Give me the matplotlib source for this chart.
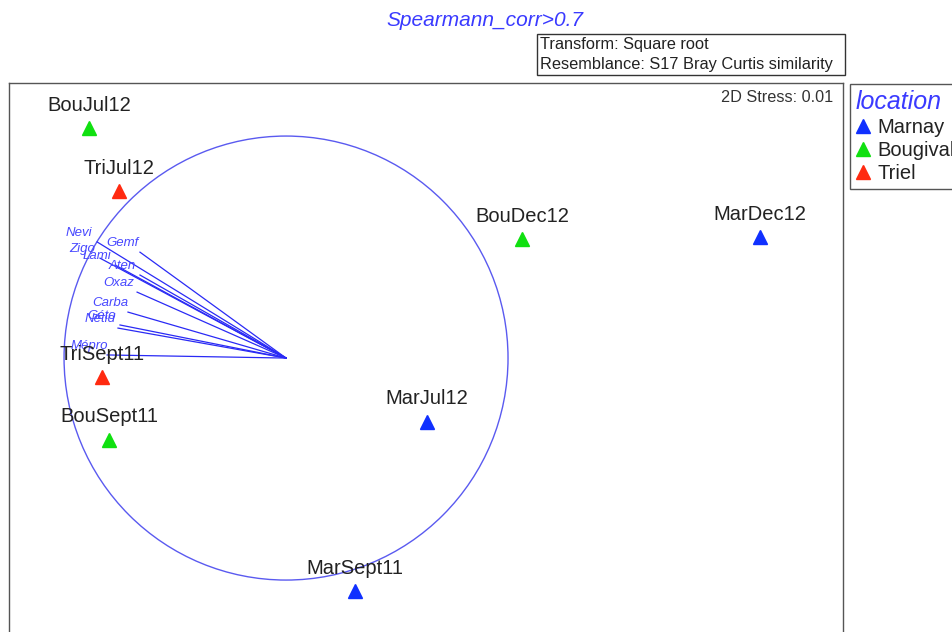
import matplotlib.pyplot as plt
from matplotlib.patches import Circle, Rectangle
from matplotlib.lines import Line2D

plt.rcParams['font.family'] = ['Liberation Sans', 'DejaVu Sans']

# nMDS sample coordinates (scaled so the correlation circle has radius 1)
samples = ['BouJul12', 'TriJul12', 'BouDec12', 'MarDec12',
           'TriSept11', 'BouSept11', 'MarJul12', 'MarSept11']
location = ['Bougival', 'Triel', 'Bougival', 'Marnay',
            'Triel', 'Bougival', 'Marnay', 'Marnay']
mds1 = [-0.887, -0.752, 1.063, 2.135, -0.829, -0.797, 0.635, 0.311]
mds2 = [1.036, 0.752, 0.536, 0.545, -0.086, -0.369, -0.288, -1.050]

# Spearman correlation vectors of taxa (corr > 0.7)
taxa = ['Nevi', 'Gemf', 'Zigo', 'Lami', 'Aten', 'Oxaz', 'Carba',
        'Géto', 'Nétid', 'Mépro']
vec1 = [-0.851, -0.658, -0.838, -0.770, -0.658, -0.671, -0.712,
        -0.748, -0.757, -0.806]
vec2 = [0.523, 0.477, 0.450, 0.419, 0.374, 0.297, 0.207,
        0.149, 0.135, 0.014]

groups = ['Marnay', 'Bougival', 'Triel']
group_colors = {'Marnay': '#1030ff', 'Bougival': '#10e010', 'Triel': '#ff2a10'}

fig = plt.figure(figsize=(9.52, 6.32), dpi=100)
ax = fig.add_axes([9 / 952, -8 / 632, 834 / 952, 557 / 632])
ax.set_xlim(-1.248, 2.509)
ax.set_ylim(-1.270, 1.239)
ax.set_xticks([])
ax.set_yticks([])
for sp in ax.spines.values():
    sp.set_color('#555555')
    sp.set_linewidth(1.0)

# correlation circle and vectors
ax.add_patch(Circle((0, 0), 1.0, fill=False, ec='#5a5af0', lw=1.0))
for name, vx, vy in zip(taxa, vec1, vec2):
    ax.plot([0, vx], [0, vy], color='#2a2af5', lw=0.9)
    ax.annotate(name, (vx, vy), xytext=(-18, 9), textcoords='offset pixels',
                ha='center', va='center', fontsize=9.5, style='italic',
                color='#4848ff')

# samples
for g in groups:
    xs = [x for x, loc in zip(mds1, location) if loc == g]
    ys = [y for y, loc in zip(mds2, location) if loc == g]
    ax.plot(xs, ys, ls='none', marker='^', markersize=10,
            color=group_colors[g], label=g)
for name, x, y in zip(samples, mds1, mds2):
    ax.annotate(name, (x, y), xytext=(0, 23), textcoords='offset pixels',
                ha='center', va='center', fontsize=14.5, color='#222222')

# title and header boxes
fig.text(485 / 952, 1 - 20 / 632, 'Spearmann_corr>0.7', ha='center',
         va='center', fontsize=15, style='italic', color='#3a3aff')
fig.patches.append(Rectangle((537 / 952, 1 - 75 / 632), 308 / 952, 41 / 632,
                             transform=fig.transFigure, fill=False,
                             ec='#333333', lw=1.0))
fig.text(540 / 952, 1 - 44 / 632, 'Transform: Square root', ha='left',
         va='center', fontsize=11.8, color='#222222')
fig.text(540 / 952, 1 - 65 / 632, 'Resemblance: S17 Bray Curtis similarity',
         ha='left', va='center', fontsize=11.8, color='#222222')
fig.text(833 / 952, 1 - 98 / 632, '2D Stress: 0.01', ha='right',
         va='center', fontsize=11.7, color='#333333')

# legend
handles = [Line2D([], [], ls='none', marker='^', markersize=10,
                  color=group_colors[g]) for g in groups]
leg = fig.legend(handles, groups, loc='upper left',
                 bbox_to_anchor=(850 / 952, 1 - 84 / 632), borderaxespad=0,
                 fontsize=14.5, title='location', fancybox=False,
                 edgecolor='#555555', framealpha=1, handlelength=0.7,
                 handletextpad=0.35, labelspacing=0.2, borderpad=0.3,
                 alignment='left')
leg.get_frame().set_linewidth(1.0)
leg.get_title().set_fontsize(18)
leg.get_title().set_fontstyle('italic')
leg.get_title().set_color('#3a3aff')
for t in leg.get_texts():
    t.set_color('#222222')

fig.savefig('out.png', dpi=100)
